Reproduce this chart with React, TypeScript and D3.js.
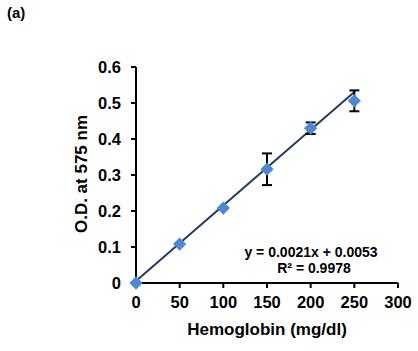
import React from 'react';
import * as d3 from 'd3';

const hemoglobin = [0, 50, 100, 150, 200, 250];
const odValues = [0, 0.108, 0.208, 0.316, 0.43, 0.506];
const odErrors = [0, 0, 0, 0.044, 0.016, 0.029];
const xTicks = [0, 50, 100, 150, 200, 250, 300];
const yTicks = [0, 0.1, 0.2, 0.3, 0.4, 0.5, 0.6];
const slope = 0.0021;
const intercept = 0.0053;

const FONT = '"Liberation Sans", Arial, sans-serif';

export default function App() {
  const width = 418;
  const height = 351;

  const x = d3.scaleLinear().domain([0, 300]).range([136, 398]);
  const y = d3.scaleLinear().domain([0, 0.6]).range([283, 67]);

  const points = hemoglobin.map((h, i) => ({ h, v: odValues[i], e: odErrors[i] }));

  const trend = d3
    .line<number>()
    .x((d) => x(d))
    .y((d) => y(slope * d + intercept));

  // rotated square marker, like the spreadsheet diamond
  const diamond = d3.symbol().type(d3.symbolSquare).size(88)();

  return (
    <svg width={width} height={height} style={{ position: 'absolute', left: 0, top: 0, background: '#fff' }}>
      <text x={7} y={18} fontFamily={FONT} fontWeight="bold" fontSize={15}>(a)</text>

      {/* axes */}
      <line x1={x(0)} x2={x(0)} y1={y(0.6)} y2={y(0)} stroke="#000" strokeWidth={2} />
      <line x1={x(0)} x2={x(300)} y1={y(0)} y2={y(0)} stroke="#000" strokeWidth={2} />
      {yTicks.map((t) => (
        <g key={'y' + t}>
          <line x1={x(0) - 5} x2={x(0)} y1={y(t)} y2={y(t)} stroke="#000" strokeWidth={2} />
          <text x={x(0) - 15} y={y(t) + 6} textAnchor="end" fontFamily={FONT} fontWeight="bold" fontSize={16.5}>
            {t === 0 ? '0' : t.toFixed(1)}
          </text>
        </g>
      ))}
      {xTicks.map((t) => (
        <g key={'x' + t}>
          <line x1={x(t)} x2={x(t)} y1={y(0)} y2={y(0) + 5} stroke="#000" strokeWidth={2} />
          <text x={x(t)} y={308} textAnchor="middle" fontFamily={FONT} fontWeight="bold" fontSize={16.5}>
            {t}
          </text>
        </g>
      ))}

      <text
        transform={`translate(87, 174) rotate(-90)`}
        textAnchor="middle"
        fontFamily={FONT}
        fontWeight="bold"
        fontSize={17}
      >
        O.D. at 575 nm
      </text>
      <text x={267} y={335} textAnchor="middle" fontFamily={FONT} fontWeight="bold" fontSize={17}>
        Hemoglobin (mg/dl)
      </text>

      {/* trend line */}
      <path d={trend([0, 250]) || ''} fill="none" stroke="#1f3c63" strokeWidth={2} />

      {/* error bars */}
      {points
        .filter((p) => p.e > 0)
        .map((p) => (
          <g key={'e' + p.h} stroke="#000" strokeWidth={2}>
            <line x1={x(p.h)} x2={x(p.h)} y1={y(p.v + p.e)} y2={y(p.v - p.e)} />
            <line x1={x(p.h) - 5} x2={x(p.h) + 5} y1={y(p.v + p.e)} y2={y(p.v + p.e)} />
            <line x1={x(p.h) - 5} x2={x(p.h) + 5} y1={y(p.v - p.e)} y2={y(p.v - p.e)} />
          </g>
        ))}

      {/* markers */}
      {points.map((p) => (
        <path
          key={'m' + p.h}
          d={diamond || ''}
          transform={`translate(${x(p.h)},${y(p.v)}) rotate(45)`}
          fill="#4f88d0"
        />
      ))}

      <text x={311} y={257} textAnchor="middle" fontFamily={FONT} fontWeight="bold" fontSize={14}>
        y = 0.0021x + 0.0053
      </text>
      <text x={314} y={273} textAnchor="middle" fontFamily={FONT} fontWeight="bold" fontSize={14}>
        R² = 0.9978
      </text>
    </svg>
  );
}
